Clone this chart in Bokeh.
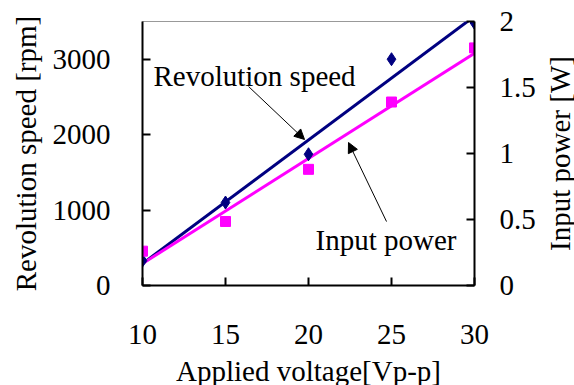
import numpy as np
from bokeh.plotting import figure
from bokeh.layouts import row
from bokeh.models import (Range1d, LinearAxis, FixedTicker, Label, Arrow, NormalHead)
from bokeh.embed import file_html
from bokeh.resources import INLINE

# ---- data ----
voltage = [10, 15, 20, 25, 30]                 # Applied voltage [Vp-p]
rev_speed = [330, 1100, 1740, 3000, 3480]      # Revolution speed [rpm]
input_power = [0.26, 0.485, 0.88, 1.39, 1.80]  # Input power [W]

x_ticks = [10, 15, 20, 25, 30]
left_ticks = [0, 1000, 2000, 3000]
right_ticks = [0, 0.5, 1, 1.5, 2]
right_tick_labels = ["0", "0.5", "1", "1.5", "2"]

FONT = "Liberation Serif"
TICK_FS = "29px"
LABEL_FS = "29px"
NAVY = "#000080"
MAGENTA = "#FF00FF"

p = figure(frame_width=332, frame_height=264, output_backend="svg",
           toolbar_location=None,
           x_range=Range1d(10, 30), y_range=Range1d(0, 3500),
           min_border_left=142, min_border_right=66, min_border_top=21,
           min_border_bottom=96, x_axis_location=None, y_axis_location=None)
p.extra_y_ranges = {"power": Range1d(0, 2)}
p.xgrid.visible = False
p.ygrid.visible = False
p.outline_line_color = "#999999"
p.outline_line_width = 1
p.background_fill_color = "white"
p.border_fill_color = "white"


def style_axis(ax, standoff):
    ax.axis_line_color = "black"
    ax.axis_line_width = 2
    ax.major_tick_line_color = "black"
    ax.major_tick_line_width = 2
    ax.major_tick_in = 8
    ax.major_tick_out = 0
    ax.minor_tick_line_color = None
    ax.major_label_text_font = FONT
    ax.major_label_text_font_size = TICK_FS
    ax.major_label_text_color = "black"
    ax.major_label_standoff = standoff


def style_title(ax, text, standoff):
    ax.axis_label = text
    ax.axis_label_standoff = standoff
    ax.axis_label_text_font = FONT
    ax.axis_label_text_font_size = LABEL_FS
    ax.axis_label_text_font_style = "normal"
    ax.axis_label_text_color = "black"


xaxis = LinearAxis(ticker=FixedTicker(ticks=x_ticks))
style_axis(xaxis, 39)
style_title(xaxis, "Applied voltage[Vp-p]", 8)
p.add_layout(xaxis, "below")

laxis = LinearAxis(ticker=FixedTicker(ticks=left_ticks))
style_axis(laxis, 32)
style_title(laxis, "Revolution speed [rpm]", 8)
p.add_layout(laxis, "left")

raxis = LinearAxis(y_range_name="power", ticker=FixedTicker(ticks=right_ticks))
style_axis(raxis, 25)
raxis.major_label_overrides = {t: s for t, s in zip(right_ticks, right_tick_labels)}
p.add_layout(raxis, "right")

# ---- linear trend lines ----
k1, b1 = np.polyfit(voltage, rev_speed, 1)
k2, b2 = np.polyfit(voltage, input_power, 1)
xl = [voltage[0], voltage[-1]]
p.line(xl, [k1 * v + b1 for v in xl], line_color=NAVY, line_width=3)
p.line(xl, [k2 * v + b2 for v in xl], line_color=MAGENTA, line_width=3,
       y_range_name="power")

# ---- markers ----
p.scatter(voltage, rev_speed, marker="diamond", size=13, fill_color=NAVY,
          line_color=NAVY)
p.scatter(voltage, input_power, marker="square", size=10, fill_color=MAGENTA,
          line_color=MAGENTA, y_range_name="power")

# ---- annotations ----
p.add_layout(Label(x=10.66, y=2771, text="Revolution speed", text_font=FONT,
                   text_font_size=LABEL_FS, text_color="black",
                   text_baseline="alphabetic"))
p.add_layout(Label(x=20.42, y=597, text="Input power", text_font=FONT,
                   text_font_size=LABEL_FS, text_color="black",
                   text_baseline="alphabetic"))
p.add_layout(Arrow(x_start=16.39, y_start=2638, x_end=19.76, y_end=1936,
                   line_color="black", line_width=1,
                   end=NormalHead(size=10, fill_color="black", line_color="black")))
p.add_layout(Arrow(x_start=24.70, y_start=848, x_end=22.41, y_end=1896,
                   line_color="black", line_width=1,
                   end=NormalHead(size=10, fill_color="black", line_color="black")))

# ---- narrow side panel: right-hand title reading bottom-to-top ----
rf = figure(frame_width=1, frame_height=264, output_backend="svg",
            toolbar_location=None, x_range=Range1d(0, 1), y_range=Range1d(0, 2),
            min_border_left=33, min_border_right=0, min_border_top=21,
            min_border_bottom=96, x_axis_location=None, y_axis_location=None)
rf.xgrid.visible = False
rf.ygrid.visible = False
rf.outline_line_color = None
rf.background_fill_color = "white"
rf.border_fill_color = "white"
title_axis = LinearAxis(ticker=FixedTicker(ticks=[]))
title_axis.axis_line_color = None
title_axis.major_tick_line_color = None
title_axis.minor_tick_line_color = None
title_axis.major_label_text_font_size = "0px"
title_axis.major_label_standoff = 0
title_axis.major_tick_in = 0
title_axis.major_tick_out = 0
style_title(title_axis, "Input power [W]", 0)
rf.add_layout(title_axis, "left")

layout = row(p, rf, spacing=0)
open("out.html", "w").write(file_html(layout, INLINE))
